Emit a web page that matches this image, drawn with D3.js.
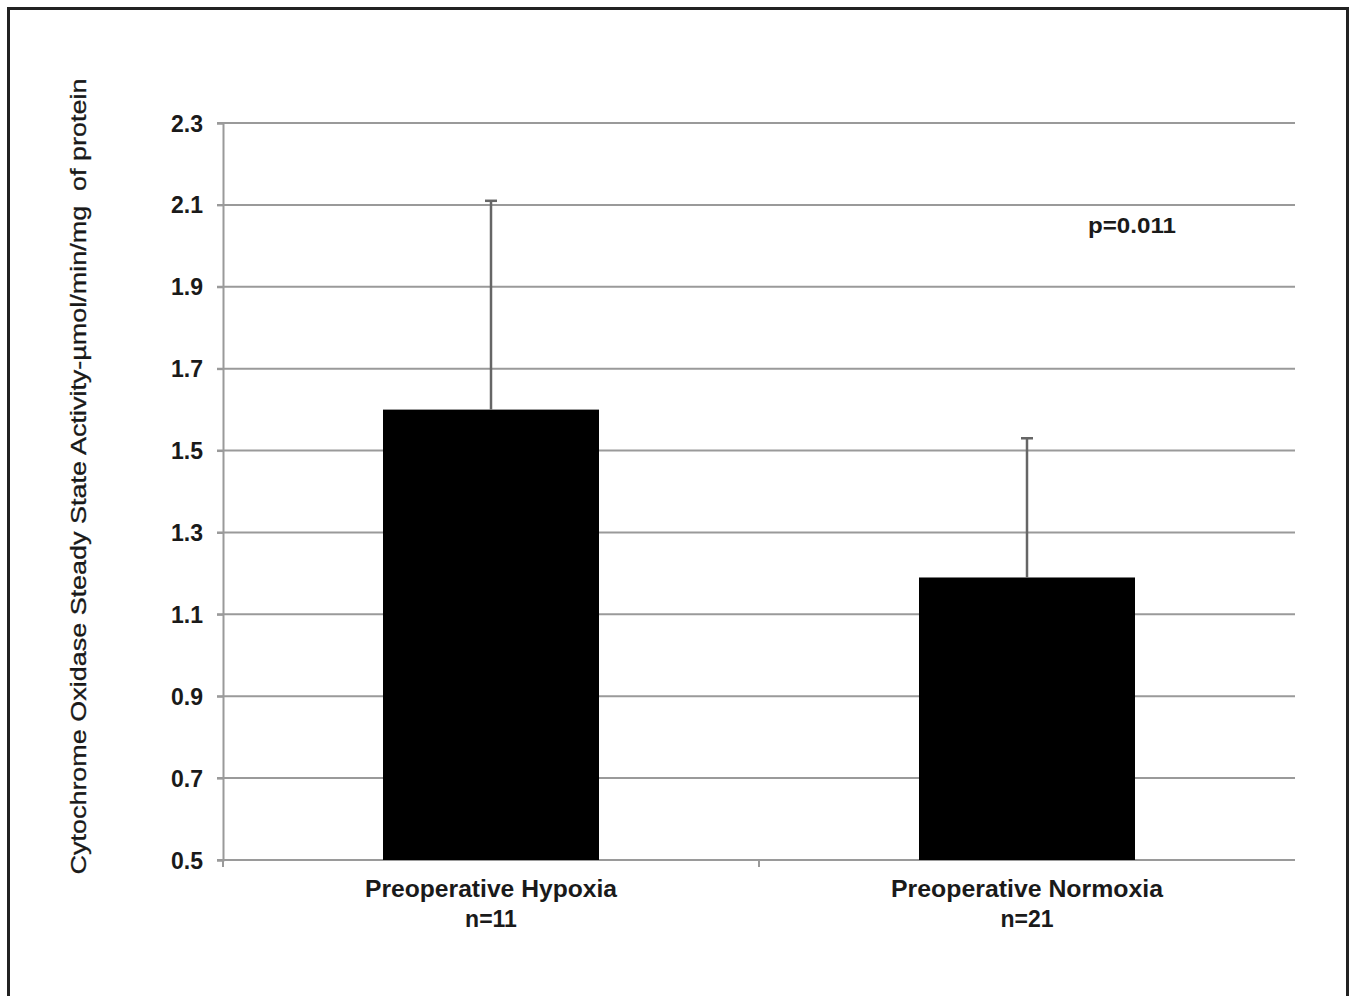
<!DOCTYPE html>
<html>
<head>
<meta charset="utf-8">
<script src="https://cdn.jsdelivr.net/npm/d3@7"></script>
<style>
  html, body { margin: 0; padding: 0; background: #fff; }
  svg { display: block; }
  text { font-family: "Liberation Sans", Arial, sans-serif; fill: #1a1a1a; white-space: pre; }
</style>
</head>
<body>
<script>
// ---- data ----
const categories = ["Preoperative Hypoxia", "Preoperative Normoxia"];
const sampleSizes = ["n=11", "n=21"];
const means = [1.60, 1.19];
const errors = [0.51, 0.34];
const yTicks = [0.5, 0.7, 0.9, 1.1, 1.3, 1.5, 1.7, 1.9, 2.1, 2.3];
const yTitle = "Cytochrome Oxidase Steady State Activity-\u00b5mol/min/mg  of protein";
const pValueLabel = "p=0.011";

// ---- layout ----
const W = 1355, H = 996;
const plot = { left: 223, right: 1295, top: 123, bottom: 860 };

const svg = d3.select("body").append("svg").attr("width", W).attr("height", H);

// outer frame
svg.append("rect")
  .attr("x", 8.5).attr("y", 8.5)
  .attr("width", 1339).attr("height", 1010)
  .attr("fill", "none").attr("stroke", "#222").attr("stroke-width", 3);

const x = d3.scaleBand()
  .domain(categories)
  .range([plot.left, plot.right])
  .paddingInner(0.597)
  .paddingOuter(0.2985);

const y = d3.scaleLinear()
  .domain([0.5, 2.3])
  .range([plot.bottom, plot.top]);

const gridColor = "#9a9a9a";

// gridlines
svg.append("g")
  .selectAll("line")
  .data(yTicks)
  .join("line")
  .attr("x1", plot.left - 6).attr("x2", plot.right)
  .attr("y1", d => y(d)).attr("y2", d => y(d))
  .attr("stroke", gridColor).attr("stroke-width", 2);

// y-axis
const yAxis = d3.axisLeft(y).tickValues(yTicks).tickFormat(d3.format(".1f")).tickSize(6).tickPadding(14);
const gy = svg.append("g").attr("transform", `translate(${plot.left},0)`).call(yAxis);
gy.select(".domain").attr("stroke", gridColor).attr("stroke-width", 2);
gy.selectAll(".tick line").attr("stroke", gridColor).attr("stroke-width", 2);
gy.selectAll(".tick text")
  .attr("font-family", "Liberation Sans, Arial, sans-serif")
  .attr("font-size", 23).attr("font-weight", "bold").attr("fill", "#1a1a1a")
  .attr("dy", "0.35em");

// x-axis ticks (left edge and category boundary)
const step = x.step();
const boundaries = [plot.left, x(categories[0]) - x.paddingInner() * step / 2 + step];
svg.append("g")
  .selectAll("line")
  .data(boundaries)
  .join("line")
  .attr("x1", d => d).attr("x2", d => d)
  .attr("y1", plot.bottom).attr("y2", plot.bottom + 7)
  .attr("stroke", gridColor).attr("stroke-width", 2);

// bars
svg.append("g")
  .selectAll("rect")
  .data(categories)
  .join("rect")
  .attr("x", d => x(d))
  .attr("width", x.bandwidth())
  .attr("y", (d, i) => y(means[i]))
  .attr("height", (d, i) => y(0.5) - y(means[i]))
  .attr("fill", "#000");

// error bars (upper only)
const eb = svg.append("g");
categories.forEach((c, i) => {
  const cx = x(c) + x.bandwidth() / 2;
  eb.append("line")
    .attr("x1", cx).attr("x2", cx)
    .attr("y1", y(means[i])).attr("y2", y(means[i] + errors[i]))
    .attr("stroke", "#666").attr("stroke-width", 2.5);
  eb.append("line")
    .attr("x1", cx - 6).attr("x2", cx + 6)
    .attr("y1", y(means[i] + errors[i])).attr("y2", y(means[i] + errors[i]))
    .attr("stroke", "#666").attr("stroke-width", 2.5);
});

// category labels
const lbl = svg.append("g");
categories.forEach((c, i) => {
  const cx = x(c) + x.bandwidth() / 2;
  lbl.append("text")
    .attr("x", cx).attr("y", 897)
    .attr("text-anchor", "middle")
    .attr("font-size", 23).attr("font-weight", "bold")
    .attr("textLength", i === 0 ? 252 : 272).attr("lengthAdjust", "spacingAndGlyphs")
    .text(c);
  lbl.append("text")
    .attr("x", cx).attr("y", 927)
    .attr("text-anchor", "middle")
    .attr("font-size", 23).attr("font-weight", "bold")
    .text(sampleSizes[i]);
});

// p-value annotation
svg.append("text")
  .attr("x", 1132).attr("y", 233)
  .attr("text-anchor", "middle")
  .attr("font-size", 22).attr("font-weight", "bold")
  .attr("textLength", 88).attr("lengthAdjust", "spacingAndGlyphs")
  .text(pValueLabel);

// y-axis title
svg.append("text")
  .attr("transform", `translate(86,${(78 + 875) / 2}) rotate(-90)`)
  .attr("text-anchor", "middle")
  .attr("font-size", 22)
  .attr("fill", "#111")
  .style("stroke", "#111").style("stroke-width", 0.3)
  .attr("textLength", 796).attr("lengthAdjust", "spacingAndGlyphs")
  .text(yTitle);
</script>
</body>
</html>
